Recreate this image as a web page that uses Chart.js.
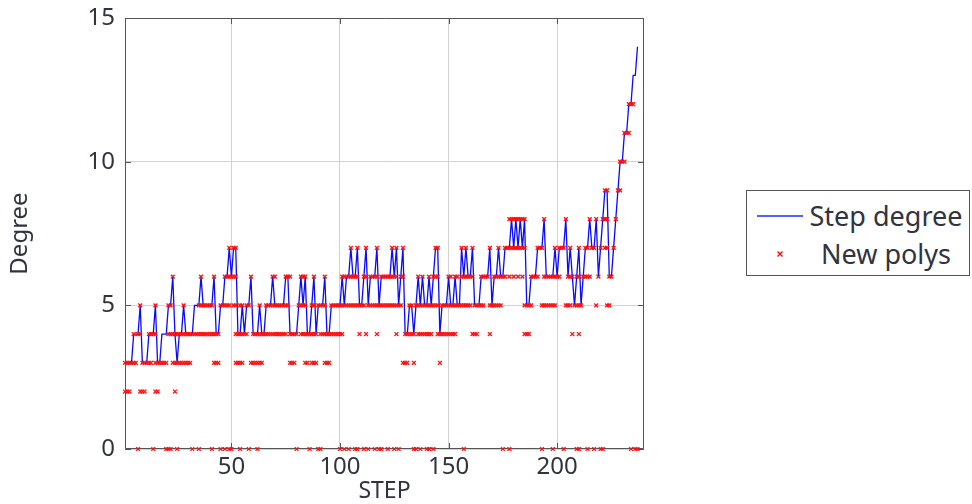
<!DOCTYPE html>
<html>
<head>
<meta charset="utf-8">
<script src="https://cdn.jsdelivr.net/npm/chart.js@4.4.1/dist/chart.umd.min.js"></script>
<style>
  html, body { margin: 0; padding: 0; background: #ffffff; }
  #wrap { position: relative; width: 972px; height: 504px; }
  #chart { position: absolute; left: 0; top: 0; }
  #legend {
    position: absolute; left: 746px; top: 190px; width: 224px; height: 86px;
    border: 1px solid #555; box-sizing: border-box; background: #fff;
    font-family: "Noto Sans", "Open Sans", sans-serif; font-size: 27px; color: #30343f;
  }
  .row { position: absolute; left: 0; width: 100%; height: 38px; }
  .sym { position: absolute; left: 10px; width: 46px; height: 38px; }
  .txt { position: absolute; left: 60px; right: 4px; top: 0; height: 38px; line-height: 38px; text-align: center; white-space: nowrap; }
  .lineSym { position: absolute; left: 0; right: 0; top: 18px; height: 2px; background: #5560ff; }
  .crossSym { position: absolute; left: 19px; top: 15px; width: 8px; height: 8px; }
</style>
</head>
<body>
<div id="wrap">
  <canvas id="chart" width="972" height="504"></canvas>
  <div id="legend">
    <div class="row" style="top:6px">
      <div class="sym"><div class="lineSym"></div></div>
      <div class="txt">Step degree</div>
    </div>
    <div class="row" style="top:44px">
      <div class="sym">
        <svg class="crossSym" viewBox="0 0 8 8"><path d="M1.5 1.5 L6.5 6.5 M6.5 1.5 L1.5 6.5" stroke="#ff0000" stroke-width="1.3"/></svg>
      </div>
      <div class="txt">New polys</div>
    </div>
  </div>
</div>
<script>
// ---- Data ----
// Step degree for steps 1..237 (x = step number)
const stepDegree = [
  3,3,3,3,4,4,4,5,3,3,      // 1-10
  3,4,4,4,5,3,3,4,4,4,      // 11-20
  5,5,6,4,3,4,4,5,4,4,      // 21-30
  4,4,5,5,5,6,5,5,5,5,      // 31-40
  5,6,4,4,5,5,6,6,7,6,      // 41-50
  7,7,4,4,5,4,5,5,6,4,      // 51-60
  4,4,5,4,4,5,5,5,6,5,      // 61-70
  5,5,5,5,6,6,4,4,4,4,      // 71-80
  5,6,5,6,4,4,5,6,4,5,      // 81-90
  5,5,6,4,4,5,5,5,5,5,      // 91-100
  6,5,6,6,7,6,6,7,5,5,      // 101-110
  6,7,5,6,6,6,7,5,6,6,      // 111-120
  6,6,6,7,6,7,5,6,7,4,      // 121-130
  4,5,5,4,5,6,5,6,5,5,      // 131-140
  6,5,6,7,7,4,5,5,5,6,      // 141-150
  5,5,6,5,5,7,6,7,6,6,      // 151-160
  7,5,5,5,6,6,6,6,7,5,      // 161-170
  6,6,7,6,6,7,7,7,8,7,      // 171-180
  8,7,8,7,8,5,5,6,6,6,      // 181-190
  7,7,7,8,6,6,6,6,7,6,      // 191-200
  7,7,7,8,6,7,6,5,6,7,      // 201-210
  5,6,7,7,8,7,7,8,6,7,      // 211-220
  8,9,9,6,6,7,8,9,10,10,    // 221-230
  11,11,12,12,13,13,14      // 231-237
];

// New polys: steps at which a new polynomial of the given degree appears
const polysDeg0  = [7,14,20,21,22,25,32,35,41,45,47,49,50,54,58,62,80,86,90,91,100,102,104,107,108,111,113,116,118,119,122,125,127,134,135,137,140,141,143,157,175,178,193,198,203,209,210,214,217,220,221,234,236,237];
const polysDeg2  = [1,2,3,8,9,10,15,16,24];
const polysDeg3  = [1,2,3,4,5,6,9,10,11,12,13,15,16,17,18,19,20,23,24,25,26,27,28,29,30,31,42,43,44,52,53,54,55,59,60,61,62,63,64,77,78,79,84,85,87,88,89,93,94,95,129,130,131,134,146];
const polysDeg4  = [5,7,8,12,13,14,15,21,22,23,24,25,26,27,28,29,30,31,32,33,34,35,36,37,38,39,40,41,42,43,44,52,53,54,55,56,57,60,61,62,63,64,65,66,67,68,69,70,71,72,73,74,75,77,78,79,80,82,83,84,85,86,87,88,89,91,92,93,94,95,96,97,98,99,100,101,109,112,117,126,130,131,132,133,134,136,137,138,139,140,141,142,145,146,147,148,149,150,151,152,153,161,162,163,169,185,186,187,207,210];
const polysDeg5  = [8,15,21,22,28,35,36,37,38,39,40,41,45,46,47,48,49,51,52,54,55,57,58,63,66,67,68,69,70,71,72,73,74,75,76,81,82,83,84,87,88,90,91,92,93,96,97,98,99,100,101,102,103,104,105,106,107,108,109,110,111,113,114,115,116,117,118,119,120,121,122,123,124,125,126,127,128,132,133,135,136,137,138,139,140,141,142,143,144,145,147,148,149,150,151,152,153,154,155,156,157,158,159,160,162,163,164,165,166,169,170,171,172,173,174,185,186,187,188,193,194,195,196,197,198,199,204,205,206,208,209,210,211,218,223,224];
const polysDeg6  = [23,36,42,47,48,49,50,51,52,59,69,70,75,76,77,82,83,84,88,93,101,102,103,104,105,106,107,108,111,112,114,115,116,117,119,120,121,122,123,124,125,126,128,129,136,138,141,143,144,145,150,151,153,154,156,157,158,159,160,161,165,166,167,168,171,172,173,174,175,176,178,180,182,184,188,189,190,191,194,195,196,197,198,199,200,201,205,206,207,209,210,212,213,214,215,219,224,225];
const polysDeg7  = [49,51,52,105,108,112,117,124,126,129,144,145,156,158,161,169,173,176,177,178,179,180,181,182,183,184,185,191,192,193,199,201,202,203,206,210,213,214,216,217,220,222,223,226];
const polysDeg8  = [178,179,180,181,182,183,184,185,194,204,215,218,221,222,223,227];
const polysDeg9  = [222,223,228,229];
const polysDeg10 = [229,230,231];
const polysDeg11 = [231,232,233];
const polysDeg12 = [233,234,235];

const xTickValues = [50, 100, 150, 200];
const yTickValues = [0, 5, 10, 15];
const xRange = [1, 240];
const yRange = [0, 15];

// ---- Build datasets from the arrays ----
const lineData = stepDegree.map((d, i) => ({ x: i + 1, y: d }));
const polyLevels = [
  [0, polysDeg0], [2, polysDeg2], [3, polysDeg3], [4, polysDeg4], [5, polysDeg5],
  [6, polysDeg6], [7, polysDeg7], [8, polysDeg8], [9, polysDeg9], [10, polysDeg10],
  [11, polysDeg11], [12, polysDeg12]
];
const polyData = [];
polyLevels.forEach(([deg, steps]) => steps.forEach(s => polyData.push({ x: s, y: deg })));

const FONT = '"Noto Sans", "Open Sans", sans-serif';
const TEXT = '#30343f';

const framePlugin = {
  id: 'frame',
  beforeDatasetsDraw(chart) {
    const { ctx, chartArea: a, scales: { x, y } } = chart;
    ctx.save();
    ctx.strokeStyle = '#555555';
    ctx.lineWidth = 1;
    ctx.beginPath();
    ctx.rect(Math.round(a.left) + 0.5, Math.round(a.top) + 0.5,
             Math.round(a.right - a.left) - 1, Math.round(a.bottom - a.top) - 1);
    xTickValues.forEach(v => {
      const px = Math.round(x.getPixelForValue(v)) + 0.5;
      ctx.moveTo(px, a.bottom); ctx.lineTo(px, a.bottom - 6);
      ctx.moveTo(px, a.top); ctx.lineTo(px, a.top + 6);
    });
    yTickValues.forEach(v => {
      const py = Math.round(y.getPixelForValue(v)) + 0.5;
      ctx.moveTo(a.left, py); ctx.lineTo(a.left + 6, py);
      ctx.moveTo(a.right, py); ctx.lineTo(a.right - 6, py);
    });
    ctx.stroke();
    ctx.restore();
  }
};

new Chart(document.getElementById('chart'), {
  type: 'scatter',
  data: {
    datasets: [
      {
        label: 'New polys',
        data: polyData,
        showLine: false,
        pointStyle: 'crossRot',
        pointRadius: 2.7,
        pointBorderWidth: 1.3,
        borderColor: '#ff1010',
        backgroundColor: '#ff1010',
        pointHoverRadius: 2.7,
        clip: false,
        order: 0
      },
      {
        label: 'Step degree',
        data: lineData,
        showLine: true,
        borderColor: '#0a0aff',
        borderWidth: 1.3,
        pointRadius: 0,
        pointHoverRadius: 0,
        tension: 0,
        fill: false,
        order: 1
      }
    ]
  },
  options: {
    responsive: false,
    animation: false,
    events: [],
    layout: { padding: { top: 18, right: 328, left: 0, bottom: 0 } },
    plugins: { legend: { display: false }, tooltip: { enabled: false } },
    scales: {
      x: {
        type: 'linear',
        min: xRange[0], max: xRange[1],
        afterBuildTicks: s => { s.ticks = xTickValues.map(v => ({ value: v })); },
        afterFit: s => { s.height = 55; s.paddingLeft = 0; s.paddingRight = 0; },
        grid: { color: '#d2d2d2', lineWidth: 1, drawTicks: false },
        border: { display: false },
        ticks: { font: { family: FONT, size: 24 }, color: TEXT, padding: 4, maxRotation: 0 },
        title: { display: true, text: 'STEP', font: { family: FONT, size: 23, lineHeight: 1.05 }, color: TEXT, padding: { top: 0, bottom: 0 } }
      },
      y: {
        type: 'linear',
        min: yRange[0], max: yRange[1],
        afterBuildTicks: s => { s.ticks = yTickValues.map(v => ({ value: v })); },
        afterFit: s => { s.width = 125; s.paddingTop = 0; s.paddingBottom = 0; },
        grid: { color: '#d2d2d2', lineWidth: 1, drawTicks: false },
        border: { display: false },
        ticks: { font: { family: FONT, size: 24 }, color: TEXT, padding: 10 },
        title: { display: true, text: 'Degree', font: { family: FONT, size: 24, lineHeight: 1.1 }, color: TEXT, padding: { top: 7, bottom: 0 } }
      }
    }
  },
  plugins: [framePlugin]
});
</script>
</body>
</html>
